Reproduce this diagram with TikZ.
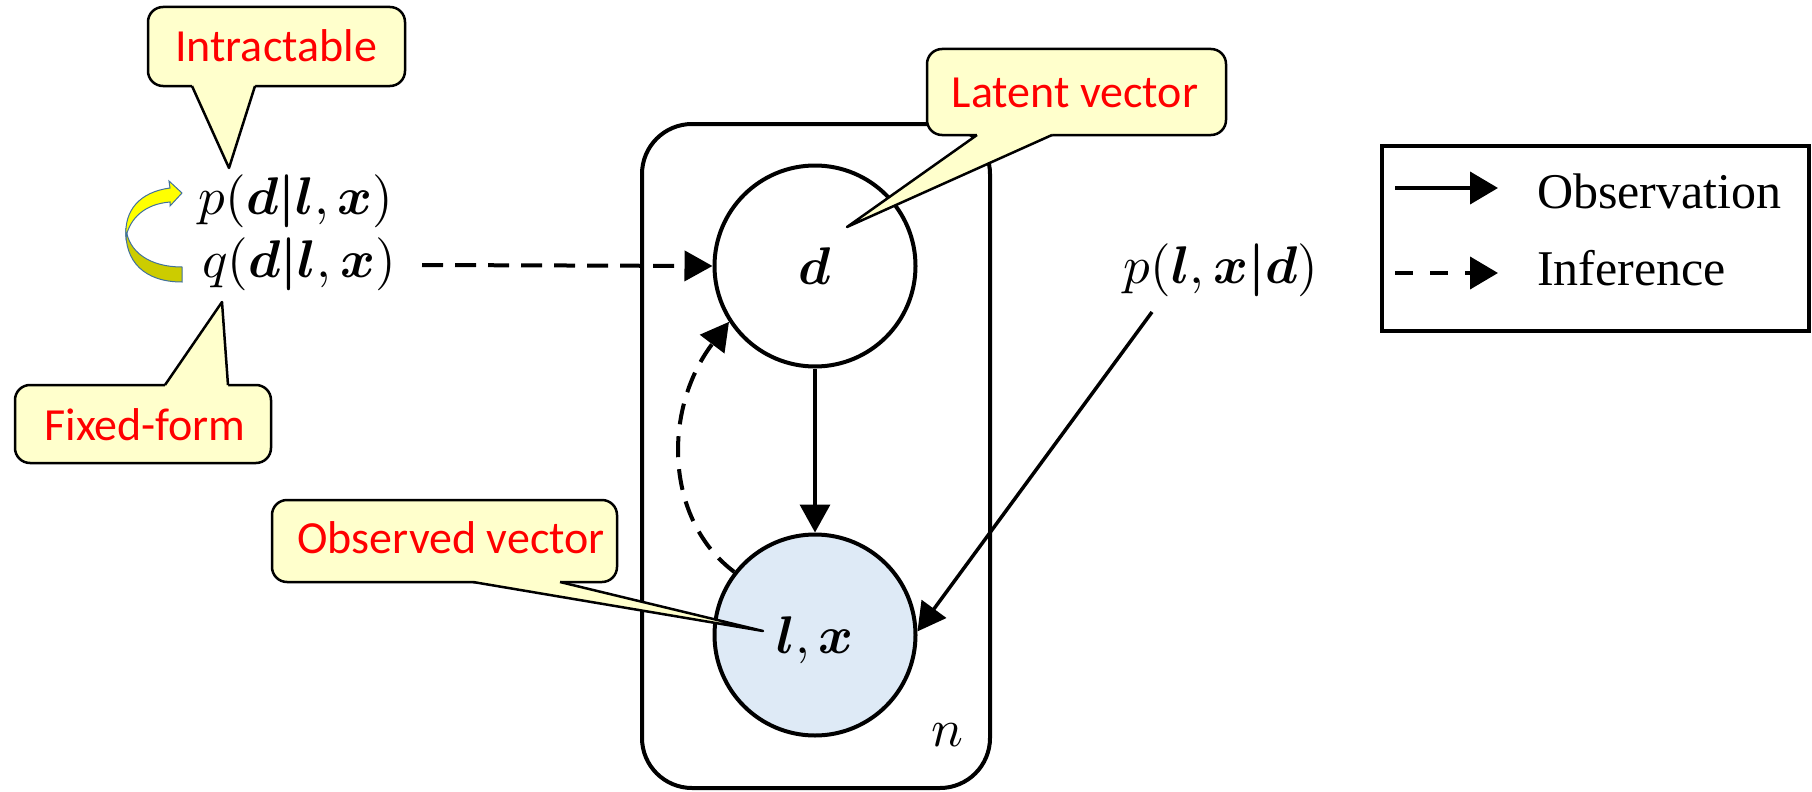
\documentclass[tikz,border=0pt]{standalone}
\usepackage{fontspec}
\usepackage{amsmath}
\usetikzlibrary{arrows.meta,calc}
\DeclareFontShape{OML}{cmm}{m}{it}{<->cmmi10}{}
\DeclareFontShape{OML}{cmm}{b}{it}{<->cmmib10}{}
\DeclareFontShape{OMS}{cmsy}{m}{n}{<->cmsy10}{}
\DeclareFontShape{OMS}{cmsy}{b}{n}{<->cmbsy10}{}
\DeclareFontShape{OT1}{cmr}{m}{n}{<->cmr10}{}
\DeclareFontShape{OT1}{cmr}{bx}{n}{<->cmbx10}{}
\newfontfamily\calib{Carlito}
\newfontfamily\timesf{Liberation Serif}
\definecolor{callfill}{HTML}{FFFFCC}
\definecolor{obsfill}{HTML}{DEEAF6}
\definecolor{arrowyellow}{HTML}{FFFF00}
\definecolor{arrowolive}{HTML}{CCCC00}
\definecolor{arrowedge}{HTML}{41719C}
\tikzset{
  callbox/.style={fill=callfill, draw=black, line width=2.5pt, rounded corners=15pt},
  callfillonly/.style={fill=callfill},
  calledge/.style={draw=black, line width=2.5pt, line join=round},
  ctext/.style={text=red, font=\calib\fontsize{46}{55}\selectfont, inner sep=0pt},
  mathlbl/.style={font=\fontsize{53}{64}\selectfont, inner sep=0pt},
  latentnode/.style={circle, draw, line width=4pt, minimum size=201pt, inner sep=0pt, font=\fontsize{53}{64}\selectfont},
  obsnode/.style={latentnode, fill=obsfill, text depth=0pt},
  platebox/.style={draw, line width=4pt, rounded corners=50pt, minimum width=348pt, minimum height=664pt, inner sep=0pt},
  obsarrow/.style={-{Triangle[length=28pt,width=30pt]}, line width=3.5pt},
  infarrow/.style={obsarrow, line width=4pt, dash pattern=on 21pt off 12pt},
  legtext/.style={font=\timesf\fontsize{50}{60}\selectfont, inner sep=0pt, anchor=base west},
}
\begin{document}
\begin{tikzpicture}[x=1pt,y=-1pt]
\useasboundingbox (0,0) rectangle (1812,792);
\fill[white] (0,0) rectangle (1812,792);

% plate
\node[platebox] (plate) at (816,456) {};
\node[mathlbl] (nlbl) at (947,735) {$n$};

% random variables
\node[latentnode] (d) at (815,266) {$\boldsymbol{d}$};
\node[obsnode] (lx) at (815,635) {$\boldsymbol{l},\boldsymbol{x}$};

% formulas
\node[mathlbl] (pd) at (296,201) {$p(\boldsymbol{d}\boldsymbol{|}\boldsymbol{l},\boldsymbol{x})$};
\node[mathlbl] (qd) at (299,264) {$q(\boldsymbol{d}\boldsymbol{|}\boldsymbol{l},\boldsymbol{x})$};
\node[mathlbl] (plx) at (1221,270) {$p(\boldsymbol{l},\boldsymbol{x}\boldsymbol{|}\boldsymbol{d})$};

% connectors
\coordinate (qstart) at (422,265);
\coordinate (pstart) at (1152,312);
\draw[infarrow] (qstart) -- (d.west);
\draw[obsarrow] (d.south) -- (lx.north);
\draw[obsarrow] (pstart) -- (lx.2);
\draw[infarrow] (lx.142) .. controls (665,520) and (662,410) .. (d.213);

% yellow curved arrow
\fill[arrowolive, draw=arrowedge, line width=1pt]
  (126,228) .. controls (128,252) and (150,267) .. (182,267)
  -- (182,282) .. controls (145,282) and (124,262) .. (126,228) -- cycle;
\fill[arrowyellow, draw=arrowedge, line width=1pt, line join=miter]
  (182,193) -- (169,181) -- (170,188)
  .. controls (140,192) and (124,210) .. (126,237)
  .. controls (130,218) and (145,204) .. (170,202)
  -- (170,206) -- cycle;

% legend
\draw[line width=4pt] (1382,146) rectangle (1809,331);
\coordinate (lega) at (1395,188);
\coordinate (legb) at (1498,188);
\coordinate (legc) at (1395,273);
\coordinate (legd) at (1498,273);
\draw[obsarrow, -{Triangle[length=28pt,width=32pt]}, line width=4pt] (lega) -- (legb);
\draw[obsarrow, -{Triangle[length=28pt,width=32pt]}, line width=4pt, dash pattern=on 18pt off 17pt] (legc) -- (legd);
\node[legtext] (obslbl) at (1537,208) {Observation};
\node[legtext] (inflbl) at (1537,285) {Inference};

% callout: Intractable
\draw[callbox] (148,7) rectangle (405,86);
\fill[callfillonly] (192,82) -- (192,86) -- (229,168) -- (255,86) -- (255,82) -- cycle;
\draw[calledge] (192,86) -- (229,168) -- (255,86);
\node[ctext] (c1) at (276,46) {Intractable};

% callout: Fixed-form
\draw[callbox] (15,385) rectangle (271,463);
\fill[callfillonly] (165,389) -- (165,385) -- (222,302) -- (228,385) -- (228,389) -- cycle;
\draw[calledge] (165,385) -- (222,302) -- (228,385);
\node[ctext] (c2) at (145,425) {Fixed-form};

% callout: Latent vector
\draw[callbox] (927,49) rectangle (1226,135);
\fill[callfillonly] (977,131) -- (977,135) -- (847,227) -- (1052,135) -- (1052,131) -- cycle;
\draw[calledge] (977,135) -- (847,227) -- (1052,135);
\node[ctext] (c3) at (1075,93) {Latent vector};

% callout: Observed vector
\draw[callbox] (272,500) rectangle (617,582);
\fill[callfillonly] (473,578) -- (473,582) -- (763,631) -- (560,582) -- (560,578) -- cycle;
\draw[calledge] (473,582) -- (763,631) -- (560,582);
\node[ctext] (c4) at (451,538) {Observed vector};
\end{tikzpicture}
\end{document}
